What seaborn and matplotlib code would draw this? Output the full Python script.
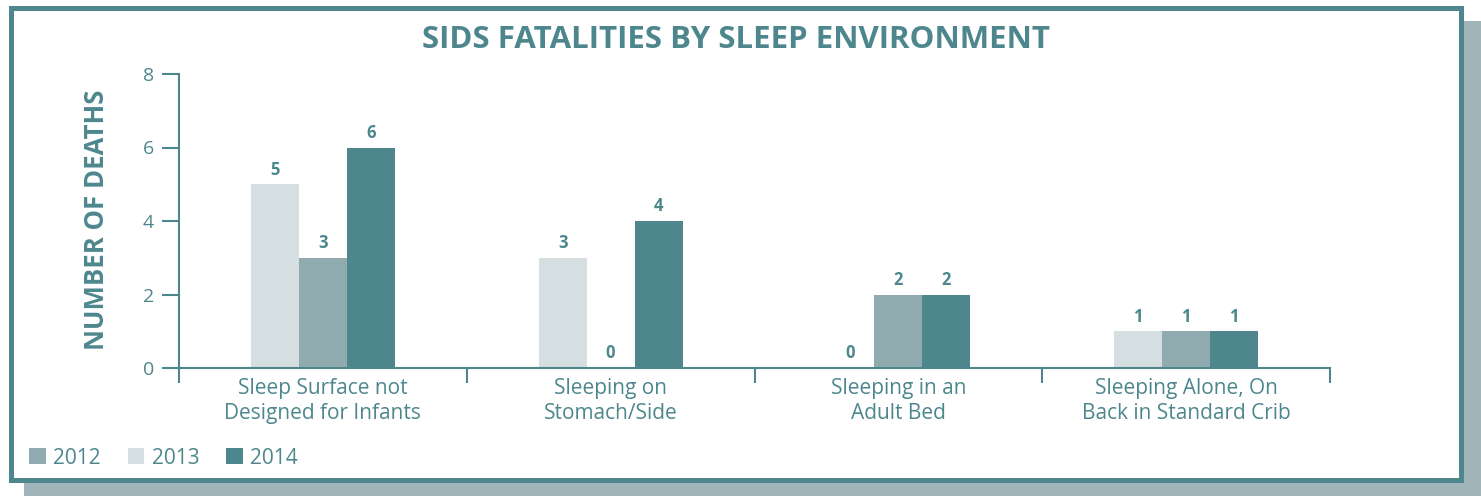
import numpy as np
import pandas as pd
import matplotlib
matplotlib.use('Agg')
import matplotlib.pyplot as plt
import seaborn as sns
from matplotlib.patches import Rectangle, Patch

# data
categories = ["Sleep Surface not\nDesigned for Infants",
              "Sleeping on\nStomach/Side",
              "Sleeping in an\nAdult Bed",
              "Sleeping Alone, On\nBack in Standard Crib"]
deaths_2012 = [3, 0, 2, 1]
deaths_2013 = [5, 3, 0, 1]
deaths_2014 = [6, 4, 2, 1]
years = ["2012", "2013", "2014"]
bar_order = ["2013", "2012", "2014"]
y_ticks = [0, 2, 4, 6, 8]

teal = "#4d878d"
colors = {"2012": "#8fabb0", "2013": "#d5dee0", "2014": "#4d878d"}

df = pd.DataFrame({
    "category": categories * 3,
    "year": ["2012"] * 4 + ["2013"] * 4 + ["2014"] * 4,
    "deaths": deaths_2012 + deaths_2013 + deaths_2014,
})

sns.set_style("white")
plt.rcParams['font.family'] = ['Open Sans', 'DejaVu Sans']

W, H = 1481, 496
fig = plt.figure(figsize=(W / 100, H / 100), dpi=100)
fig.patch.set_facecolor("white")

# shadow + framed box
fig.patches.append(Rectangle((24 / W, 0), (W - 24) / W, (H - 21) / H,
                             transform=fig.transFigure, facecolor="#a0b5ba",
                             edgecolor="none", zorder=-3))
fig.patches.append(Rectangle((10.5 / W, 1 - 479.5 / H), 1450 / W, 472 / H,
                             transform=fig.transFigure, facecolor="white",
                             edgecolor=teal, linewidth=3.6, zorder=-2))

ax = fig.add_axes([179 / W, 1 - 368 / H, (1330 - 179) / W, (368 - 74) / H])
ax.patch.set_alpha(0)

sns.barplot(data=df, x="category", y="deaths", hue="year", hue_order=bar_order,
            order=categories, palette=colors, width=0.5, saturation=1,
            linewidth=0, legend=False, ax=ax)

for cont in ax.containers:
    ax.bar_label(cont, fmt="%d", padding=4, color=teal, fontsize=12,
                 fontweight="bold")

ax.set_ylim(0, 8)
ax.set_xlim(-0.5, 3.5)
ax.set_yticks(y_ticks)
ax.set_xlabel("")
ax.set_ylabel("")
for s in ["top", "right"]:
    ax.spines[s].set_visible(False)
for s in ["left", "bottom"]:
    ax.spines[s].set_color(teal)
    ax.spines[s].set_linewidth(1.5)
ax.spines["left"].set_bounds(0, 8)

ax.tick_params(axis="y", left=True, direction="out", length=12, width=1.5,
               color=teal, labelcolor=teal, labelsize=14, pad=6)
ax.tick_params(axis="x", which="major", bottom=False, labelcolor=teal,
               labelsize=15, pad=4)
ax.set_xticks(np.arange(-0.5, 4, 1), minor=True)
ax.tick_params(axis="x", which="minor", bottom=True, direction="out",
               length=11, width=1.5, color=teal)
for lbl in ax.get_xticklabels():
    lbl.set_linespacing(1.2)

fig.text(736 / W, 1 - 40 / H, "SIDS FATALITIES BY SLEEP ENVIRONMENT",
         ha="center", va="center", color=teal, fontsize=22.5, fontweight="bold")
fig.text(96 / W, 1 - 220 / H, "NUMBER OF DEATHS", rotation=90,
         ha="center", va="center", color=teal, fontsize=18.5, fontweight="bold")

handles = [Patch(facecolor=colors[y], edgecolor="none") for y in years]
leg = fig.legend(handles, years, loc="center left",
                 bbox_to_anchor=(29 / W, 1 - 458 / H), ncol=3, frameon=False,
                 fontsize=15, handlelength=0.8, handleheight=0.8,
                 handletextpad=0.35, columnspacing=1.3, borderpad=0,
                 borderaxespad=0)
for t in leg.get_texts():
    t.set_color(teal)

fig.savefig("out.png", dpi=100)
